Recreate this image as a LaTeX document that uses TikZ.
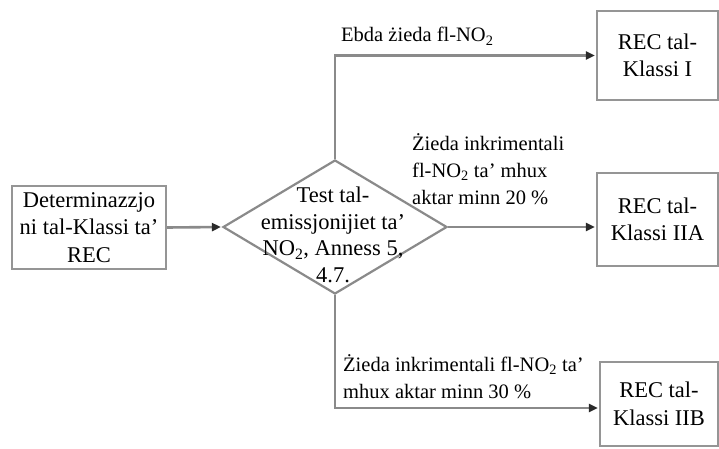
\documentclass[tikz,border=0pt]{standalone}
\usepackage{fontspec}
\setmainfont{Liberation Serif}
\usetikzlibrary{arrows.meta,shapes.geometric}
\definecolor{ln}{HTML}{8A8A8A}
\definecolor{bx}{HTML}{959595}
\definecolor{ah}{HTML}{2A2A2A}
\tikzset{
  x=1pt,y=1pt,
  big/.style={font=\fontsize{22.5}{27.5}\selectfont},
  txt/.style={font=\fontsize{20.5}{27}\selectfont, text=black, inner sep=0pt},
  box/.style={draw=bx, line width=2.4pt, fill=white, inner sep=0pt, align=center, big},
  conn/.style={draw=ln, line width=2.6pt},
  arr/.style={conn, -{Triangle[length=9pt,width=8pt,fill=ah,color=ah]}, shorten >=1pt},
}
\begin{document}
\begin{tikzpicture}
\useasboundingbox (0,0) rectangle (719,448);
\fill[white] (0,0) rectangle (719,448);
% boxes
\node[box, minimum width=154pt, minimum height=83pt] (src) at (89,220.5) {Determinazzjo\\ni tal-Klassi ta’\\REC};
\node[box, minimum width=121pt, minimum height=89pt] (b1) at (657.5,392.5) {REC tal-\\Klassi I};
\node[box, minimum width=121pt, minimum height=93pt] (b2) at (657.5,228.5) {REC tal-\\Klassi IIA};
\node[box, minimum width=118pt, minimum height=84pt] (b3) at (659,44) {REC tal-\\Klassi IIB};
% diamond
\node[diamond, draw=ln, line width=2.2pt, inner sep=0pt, minimum width=224pt, minimum height=134pt] (d) at (335,221) {};
\node[big, inner sep=0pt, align=center, font=\fontsize{22.5}{26.7}\selectfont] (dt) at (333,213) {Test tal-\\emissjonijiet ta’\\NO\textsubscript{2}, Anness 5,\\4.7.};
% connectors
\draw[arr] (src.east) -- (d.west);
\draw[arr] (d.north) |- (b1.west);
\draw[arr] (d.east) -- (d.east -| b2.west);
\coordinate (c3) at ([yshift=-4pt]b3.west);
\draw[arr] (d.south) |- (c3);
% labels
\node[txt, anchor=base west] (l1) at (341,406) {Ebda żieda fl-NO\textsubscript{2}};
\node[txt, anchor=west, align=left] (l2) at (412,279) {Żieda inkrimentali\\fl-NO\textsubscript{2} ta’ mhux\\aktar minn 20 \%};
\node[txt, anchor=west, align=left] (l3) at (343,71) {Żieda inkrimentali fl-NO\textsubscript{2} ta’\\mhux aktar minn 30 \%};
\end{tikzpicture}
\end{document}
